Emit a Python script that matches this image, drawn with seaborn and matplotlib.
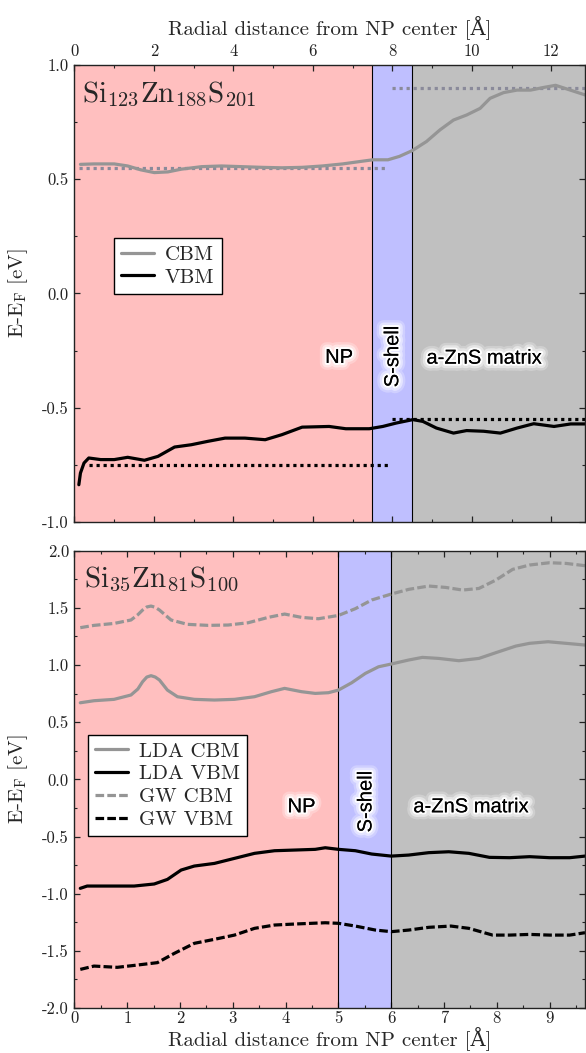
import numpy as np
import pandas as pd
import matplotlib
matplotlib.use("Agg")
import matplotlib.pyplot as plt
import matplotlib.patheffects as pe
from matplotlib.ticker import MultipleLocator
import seaborn as sns

# ---------------- data ----------------
# Top panel: Si123Zn188S201
top_cbm_x = [0.15, 0.49, 1.0, 1.34, 1.67, 2.01, 2.35, 2.69, 3.2, 3.7, 4.21, 4.72, 5.22, 5.73, 6.24, 6.75,
             7.25, 7.51, 7.89, 8.18, 8.5, 8.86, 9.2, 9.54, 9.87, 10.21, 10.46, 10.8, 11.14, 11.48, 11.82,
             12.11, 12.41, 12.85]
top_cbm_y = [0.565, 0.567, 0.567, 0.558, 0.541, 0.529, 0.532, 0.544, 0.555, 0.558, 0.555, 0.552, 0.55,
             0.552, 0.558, 0.567, 0.579, 0.585, 0.585, 0.60, 0.625, 0.665, 0.716, 0.759, 0.781, 0.81,
             0.854, 0.879, 0.89, 0.89, 0.902, 0.911, 0.894, 0.869]
top_vbm_x = [0.11, 0.15, 0.24, 0.36, 0.66, 1.0, 1.34, 1.76, 2.10, 2.52, 2.94, 3.36, 3.79, 4.29, 4.80,
             5.22, 5.73, 6.41, 6.83, 7.42, 7.76, 8.10, 8.52, 8.77, 9.11, 9.54, 9.87, 10.30, 10.72,
             11.14, 11.56, 12.07, 12.49, 12.85]
top_vbm_y = [-0.837, -0.786, -0.742, -0.72, -0.727, -0.727, -0.717, -0.73, -0.713, -0.672, -0.662,
             -0.647, -0.633, -0.633, -0.64, -0.618, -0.585, -0.582, -0.592, -0.592, -0.582, -0.567,
             -0.552, -0.56, -0.589, -0.611, -0.6, -0.603, -0.611, -0.589, -0.57, -0.582, -0.571, -0.571]
# reference (bulk) levels, dotted
top_ref_cbm_np_x = [0.12, 7.9]
top_ref_cbm_np_y = [0.55, 0.55]
top_ref_cbm_mat_x = [8.0, 12.85]
top_ref_cbm_mat_y = [0.90, 0.90]
top_ref_vbm_np_x = [0.36, 7.9]
top_ref_vbm_np_y = [-0.75, -0.75]
top_ref_vbm_mat_x = [8.0, 12.85]
top_ref_vbm_mat_y = [-0.55, -0.55]

# Bottom panel: Si35Zn81S100
lda_cbm_x = [0.11, 0.37, 0.75, 1.07, 1.2, 1.29, 1.37, 1.45, 1.53, 1.61, 1.76, 1.95, 2.27, 2.65, 3.03,
             3.41, 3.73, 3.98, 4.30, 4.56, 4.81, 5.0, 5.25, 5.51, 5.76, 6.0, 6.33, 6.59, 6.9, 7.28,
             7.66, 7.98, 8.36, 8.62, 8.97, 9.31, 9.67]
lda_cbm_y = [0.67, 0.688, 0.70, 0.738, 0.79, 0.854, 0.895, 0.907, 0.895, 0.869, 0.781, 0.723, 0.70,
             0.694, 0.70, 0.723, 0.767, 0.796, 0.767, 0.752, 0.758, 0.781, 0.845, 0.927, 0.985, 1.009,
             1.044, 1.067, 1.058, 1.038, 1.058, 1.108, 1.166, 1.19, 1.204, 1.19, 1.175]
gw_cbm_x = [0.11, 0.37, 0.75, 1.07, 1.2, 1.29, 1.37, 1.45, 1.53, 1.61, 1.83, 2.14, 2.53, 2.91, 3.29,
            3.67, 3.98, 4.30, 4.62, 5.0, 5.32, 5.63, 6.0, 6.33, 6.71, 7.03, 7.35, 7.66, 7.98, 8.3,
            8.62, 9.0, 9.31, 9.67]
gw_cbm_y = [1.327, 1.347, 1.364, 1.394, 1.44, 1.481, 1.508, 1.516, 1.505, 1.481, 1.394, 1.356, 1.347,
            1.35, 1.37, 1.417, 1.446, 1.417, 1.405, 1.434, 1.493, 1.569, 1.621, 1.662, 1.691, 1.679,
            1.656, 1.67, 1.743, 1.837, 1.875, 1.895, 1.889, 1.869]
lda_vbm_x = [0.11, 0.24, 0.69, 1.13, 1.51, 1.76, 2.02, 2.27, 2.65, 3.03, 3.41, 3.79, 4.18, 4.56, 4.75,
             5.0, 5.32, 5.63, 6.0, 6.33, 6.71, 7.09, 7.47, 7.86, 8.24, 8.62, 9.0, 9.38, 9.67]
lda_vbm_y = [-0.953, -0.933, -0.933, -0.933, -0.915, -0.875, -0.793, -0.758, -0.735, -0.691, -0.647,
             -0.624, -0.618, -0.612, -0.598, -0.612, -0.624, -0.653, -0.671, -0.662, -0.641, -0.633,
             -0.647, -0.682, -0.685, -0.676, -0.685, -0.685, -0.671]
gw_vbm_x = [0.11, 0.37, 0.81, 1.19, 1.57, 1.89, 2.27, 2.65, 3.03, 3.41, 3.79, 4.18, 4.75, 5.0, 5.32,
            5.70, 6.0, 6.33, 6.71, 7.13, 7.47, 7.92, 8.24, 8.62, 9.0, 9.38, 9.67]
gw_vbm_y = [-1.662, -1.633, -1.644, -1.624, -1.603, -1.522, -1.434, -1.399, -1.362, -1.303, -1.274,
            -1.265, -1.254, -1.259, -1.283, -1.318, -1.332, -1.318, -1.294, -1.283, -1.303, -1.362,
            -1.362, -1.356, -1.362, -1.362, -1.341]

# region boundaries [Å]
top_regions = [0.0, 7.5, 8.5, 12.85]
bot_regions = [0.0, 5.0, 6.0, 9.67]
region_colors = ["#ffbfbf", "#bfbfff", "#c0c0c0"]
region_names = ["NP", "S-shell", "a-ZnS matrix"]

# ---------------- style ----------------
sns.set_style("ticks")
plt.rcParams["font.family"] = ["cmr10", "DejaVu Serif"]
plt.rcParams["mathtext.fontset"] = "cm"
plt.rcParams["axes.formatter.use_mathtext"] = False
plt.rcParams["axes.unicode_minus"] = False

CBM_C = "#959595"
REF_C = "#8a8a9a"
LW = 2.3
DOT = (0, (1.0, 1.2))
DASH = (0, (2.7, 1.0))

fig = plt.figure(figsize=(5.86, 10.53), dpi=100)
ax1 = fig.add_axes([0.1271, 0.5043, 0.8712, 0.4340])
ax2 = fig.add_axes([0.1271, 0.0427, 0.8712, 0.4343])

glow = [pe.withStroke(linewidth=10, foreground="white", alpha=0.25),
        pe.withStroke(linewidth=6.5, foreground="white", alpha=0.45),
        pe.withStroke(linewidth=3, foreground="white", alpha=0.95),
        pe.Normal()]


def regions(ax, b):
    for i in range(3):
        ax.axvspan(b[i], b[i + 1], color=region_colors[i], lw=0, zorder=0)
    for v in b[1:3]:
        ax.axvline(v, color="black", lw=0.8, zorder=1)


def style_axes(ax):
    for s in ax.spines.values():
        s.set_linewidth(1.0)
        s.set_color("#222222")
        s.set_zorder(5)
    ax.tick_params(axis="both", which="both", direction="in", top=True, bottom=True,
                   left=True, right=True, labelsize=12, colors="#222222", pad=4)
    ax.tick_params(which="major", length=4, width=0.9)
    ax.tick_params(which="minor", length=2.2, width=0.8)


def region_labels(ax, pos):
    for (x, y, rot), name in zip(pos, region_names):
        ax.text(x, y, name, rotation=rot, ha="center", va="center", fontsize=14.5,
                family=["Liberation Sans", "DejaVu Sans"], color="black",
                path_effects=glow, zorder=4)


# ---------------- top panel ----------------
regions(ax1, top_regions)
for xs, ys in [(top_ref_cbm_np_x, top_ref_cbm_np_y), (top_ref_cbm_mat_x, top_ref_cbm_mat_y)]:
    sns.lineplot(x=xs, y=ys, ax=ax1, color=REF_C, lw=LW, linestyle=DOT, zorder=2)
for xs, ys in [(top_ref_vbm_np_x, top_ref_vbm_np_y), (top_ref_vbm_mat_x, top_ref_vbm_mat_y)]:
    sns.lineplot(x=xs, y=ys, ax=ax1, color="black", lw=LW, linestyle=DOT, zorder=2)
sns.lineplot(x=top_cbm_x, y=top_cbm_y, ax=ax1, color=CBM_C, lw=LW, label="CBM", zorder=3)
sns.lineplot(x=top_vbm_x, y=top_vbm_y, ax=ax1, color="black", lw=LW, label="VBM", zorder=3)

ax1.set_xlim(top_regions[0], top_regions[-1])
ax1.set_ylim(-1.0, 1.0)
ax1.xaxis.set_major_locator(MultipleLocator(2))
ax1.xaxis.set_minor_locator(MultipleLocator(1))
ax1.yaxis.set_major_locator(MultipleLocator(0.5))
ax1.yaxis.set_minor_locator(MultipleLocator(0.25))
style_axes(ax1)
ax1.tick_params(labeltop=True, labelbottom=False)
ax1.xaxis.set_label_position("top")
ax1.set_xlabel(r"Radial distance from NP center [Å]", fontsize=15, labelpad=7)
ax1.set_ylabel(r"E-E$_\mathrm{F}$ [eV]", fontsize=15)
ax1.yaxis.set_label_coords(-0.088, 0.5)
ax1.text(0.18, 0.838, r"Si$_{123}$Zn$_{188}$S$_{201}$", fontsize=21, va="baseline", ha="left", zorder=4)
region_labels(ax1, [(6.66, -0.28, 0), (8.01, -0.276, 90), (10.31, -0.283, 0)])
leg1 = ax1.legend(loc="lower left", bbox_to_anchor=(0.077, 0.499), fontsize=15, frameon=True,
                  fancybox=False, framealpha=1, edgecolor="black", handlelength=1.6,
                  handletextpad=0.5, borderpad=0.35, labelspacing=0.2, borderaxespad=0)
leg1.get_frame().set_linewidth(1.0)
leg1.set_zorder(6)

# ---------------- bottom panel ----------------
regions(ax2, bot_regions)
sns.lineplot(x=lda_cbm_x, y=lda_cbm_y, ax=ax2, color=CBM_C, lw=LW, label="LDA CBM", zorder=3)
sns.lineplot(x=lda_vbm_x, y=lda_vbm_y, ax=ax2, color="black", lw=LW, label="LDA VBM", zorder=3)
sns.lineplot(x=gw_cbm_x, y=gw_cbm_y, ax=ax2, color=CBM_C, lw=LW, linestyle=DASH, label="GW CBM", zorder=3)
sns.lineplot(x=gw_vbm_x, y=gw_vbm_y, ax=ax2, color="black", lw=LW, linestyle=DASH, label="GW VBM", zorder=3)

ax2.set_xlim(bot_regions[0], bot_regions[-1])
ax2.set_ylim(-2.0, 2.0)
ax2.xaxis.set_major_locator(MultipleLocator(1))
ax2.xaxis.set_minor_locator(MultipleLocator(0.5))
ax2.yaxis.set_major_locator(MultipleLocator(0.5))
ax2.yaxis.set_minor_locator(MultipleLocator(0.25))
style_axes(ax2)
ax2.tick_params(axis="x", pad=2)
ax2.set_xlabel(r"Radial distance from NP center [Å]", fontsize=15, labelpad=0)
ax2.set_ylabel(r"E-E$_\mathrm{F}$ [eV]", fontsize=15)
ax2.yaxis.set_label_coords(-0.088, 0.5)
ax2.text(0.18, 1.68, r"Si$_{35}$Zn$_{81}$S$_{100}$", fontsize=21, va="baseline", ha="left", zorder=4)
region_labels(ax2, [(4.3, -0.24, 0), (5.52, -0.195, 90), (7.51, -0.24, 0)])
leg2 = ax2.legend(loc="lower left", bbox_to_anchor=(0.026, 0.376), fontsize=15, frameon=True,
                  fancybox=False, framealpha=1, edgecolor="black", handlelength=1.6,
                  handletextpad=0.5, borderpad=0.35, labelspacing=0.2, borderaxespad=0)
leg2.get_frame().set_linewidth(1.0)
leg2.set_zorder(6)

fig.savefig("out.png", dpi=100)
